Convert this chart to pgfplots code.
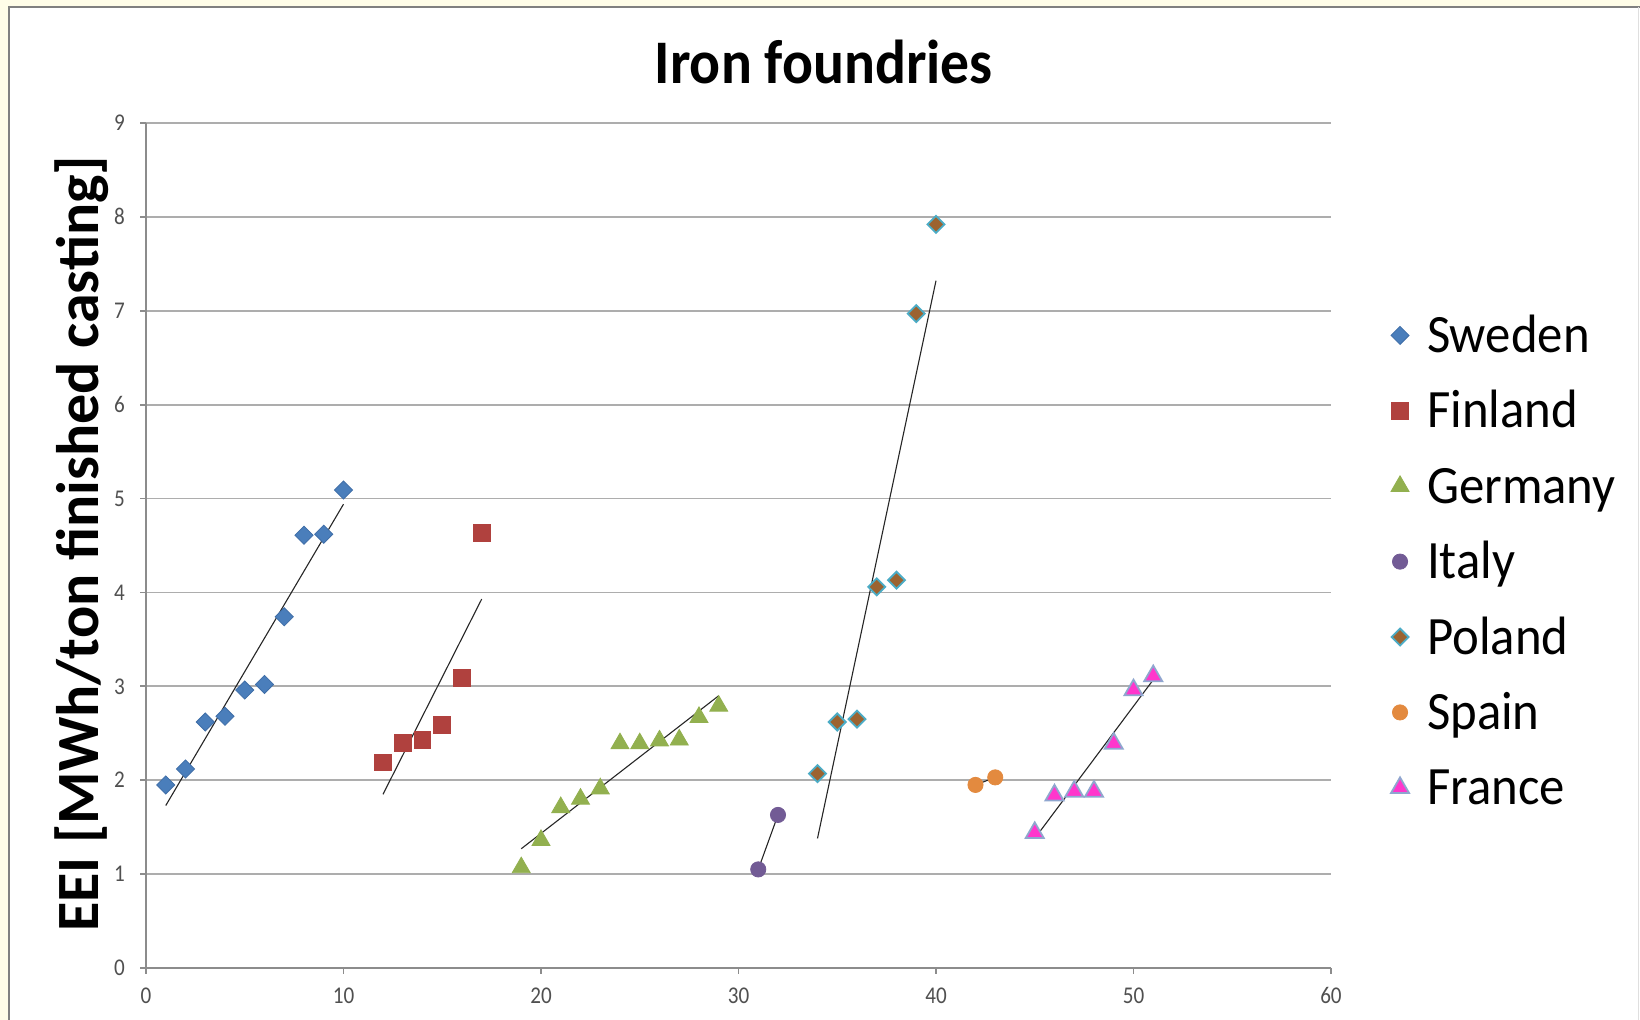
\documentclass[border=0pt]{standalone}
\usepackage{pgfplots}
\pgfplotsset{compat=1.18}
\usepackage{fontspec}
\setmainfont{Carlito}
\definecolor{cSwe}{HTML}{4A7EBB}
\definecolor{cSweD}{HTML}{3F6EA8}
\definecolor{cFin}{HTML}{B0413E}
\definecolor{cGer}{HTML}{92B04F}
\definecolor{cIta}{HTML}{725B95}
\definecolor{cPol}{HTML}{9C6330}
\definecolor{cPolB}{HTML}{4BACC6}
\definecolor{cSpa}{HTML}{E38A3F}
\definecolor{cFra}{HTML}{FF36CC}
\definecolor{cFraB}{HTML}{8FA6CF}
\definecolor{bgY}{HTML}{FFFDE8}
\definecolor{gridc}{HTML}{ADADAD}
\definecolor{axc}{HTML}{8C8C8C}
\definecolor{tickc}{HTML}{505050}
\begin{document}
\begin{tikzpicture}[x=1pt,y=1pt]
\useasboundingbox (0,0) rectangle (820,510);
\fill[bgY] (0,0) rectangle (820,510);
\fill[white] (4.5,0) rectangle (820,506.5);
\draw[gray,line width=1pt] (4.5,0) -- (4.5,506.5) -- (820,506.5);
\draw[gray!25,line width=0.8pt] (819.3,0) -- (819.3,506.5);
\begin{axis}[
  at={(73pt,26pt)}, anchor=south west,
  scale only axis, width=592.5pt, height=422.5pt,
  xmin=0, xmax=60, ymin=0, ymax=9,
  xtick={0,10,...,60}, ytick={0,1,...,9},
  axis x line*=bottom, axis y line*=left,
  axis line style={axc, line width=0.9pt, -},
  ymajorgrids, grid style={gridc, line width=0.9pt},
  tick align=outside, major tick length=3pt,
  tick style={axc, line width=0.9pt},
  /pgf/number format/assume math mode=true,
  ticklabel style={font=\fontsize{12}{14}\selectfont, text=tickc},
  xticklabel style={yshift=-3.3pt, xscale=0.88},
  yticklabel style={xshift=-4.5pt, xscale=0.88},
  title={Iron foundries},
  title style={at={(axis description cs:0.572,1.0586)}, anchor=center, font=\fontsize{31}{34}\selectfont\bfseries, xscale=0.93},
  ylabel={EEI [MWh/ton finished casting]},
  ylabel style={at={(axis description cs:-0.0544,0.502)}, anchor=center, font=\fontsize{30}{34}\selectfont\bfseries},
  legend cell align=left,
  legend style={draw=none, fill=none, inner sep=0pt, at={(axis description cs:1.0503,0.7834)}, anchor=north west,
    font=\fontsize{27}{30}\selectfont, row sep=8.7pt, column sep=9pt,
    nodes={inner sep=0pt, text height=23pt, text depth=6pt}},
  legend image code/.code={\draw[#1] plot coordinates {(0pt,0pt)};},
  clip=false,
]
% Sweden
\addplot[only marks, mark=square*, mark size=3.2pt, mark options={rotate=45, fill=cSwe, draw=cSweD}] coordinates {
(1,1.95) (2,2.12) (3,2.62) (4,2.68) (5,2.96) (6,3.02) (7,3.74) (8,4.61) (9,4.62) (10,5.09)};
\addlegendentry{\scalebox{0.94}[1]{Sweden}}
% Finland
\addplot[only marks, mark=square*, mark size=4.2pt, mark options={fill=cFin, draw=cFin}] coordinates {
(12,2.19) (13,2.40) (14,2.43) (15,2.59) (16,3.09) (17,4.63)};
\addlegendentry{\scalebox{0.94}[1]{Finland}}
% Germany
\addplot[only marks, mark=triangle*, mark size=5.2pt, mark options={fill=cGer, draw=cGer}] coordinates {
(19,1.07) (20,1.36) (21,1.71) (22,1.80) (23,1.91) (24,2.39) (25,2.39) (26,2.42) (27,2.43) (28,2.67) (29,2.79)};
\addlegendentry{\scalebox{0.94}[1]{Germany}}
% Italy
\addplot[only marks, mark=*, mark size=3.8pt, mark options={fill=cIta, draw=cIta}] coordinates {
(31,1.05) (32,1.63)};
\addlegendentry{\scalebox{0.94}[1]{Italy}}
% Poland
\addplot[only marks, mark=square*, mark size=3.0pt, mark options={rotate=45, fill=cPol, draw=cPolB, line width=0.9pt}] coordinates {
(34,2.07) (35,2.62) (36,2.65) (37,4.06) (38,4.13) (39,6.97) (40,7.92)};
\addlegendentry{\scalebox{0.94}[1]{Poland}}
% Spain
\addplot[only marks, mark=*, mark size=3.8pt, mark options={fill=cSpa, draw=cSpa}] coordinates {
(42,1.95) (43,2.03)};
\addlegendentry{\scalebox{0.94}[1]{Spain}}
% France
\addplot[only marks, mark=triangle*, mark size=5.2pt, mark options={fill=cFra, draw=cFraB, line width=0.9pt}] coordinates {
(45,1.44) (46,1.84) (47,1.88) (48,1.88) (49,2.39) (50,2.96) (51,3.11)};
\addlegendentry{\scalebox{0.94}[1]{France}}
% trend lines
\addplot[forget plot, black!85, line width=0.55pt] coordinates {(1,1.73) (10,4.94)};
\addplot[forget plot, black!85, line width=0.55pt] coordinates {(12,1.85) (17,3.93)};
\addplot[forget plot, black!85, line width=0.55pt] coordinates {(19,1.27) (29,2.90)};
\addplot[forget plot, black!85, line width=0.55pt] coordinates {(31,1.05) (32,1.63)};
\addplot[forget plot, black!85, line width=0.55pt] coordinates {(34,1.38) (40,7.32)};
\addplot[forget plot, black!85, line width=0.55pt] coordinates {(42,1.95) (43,2.03)};
\addplot[forget plot, black!85, line width=0.55pt] coordinates {(45,1.38) (51,3.07)};
\end{axis}
\end{tikzpicture}
\end{document}
